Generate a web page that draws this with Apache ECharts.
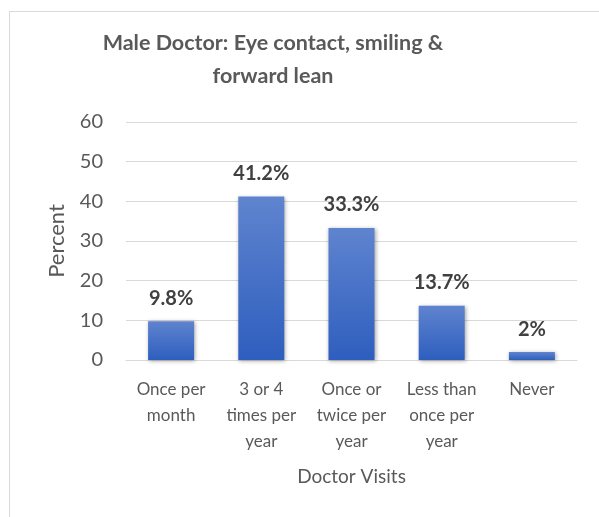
<!DOCTYPE html>
<html>
<head>
<meta charset="utf-8">
<style>
  html, body { margin: 0; padding: 0; background: #fff; }
  #frame { position: absolute; left: 9px; top: 11px; width: 600px; height: 520px; border: 1px solid #d9d9d9; box-sizing: border-box; }
  #chart { position: absolute; left: 0; top: 0; width: 599px; height: 517px; }
</style>
<script src="https://cdn.jsdelivr.net/npm/echarts@6/dist/echarts.min.js"></script>
</head>
<body>
<div id="frame"></div>
<div id="chart"></div>
<script>
const categories = [
  'Once per\nmonth',
  '3 or 4\ntimes per\nyear',
  'Once or\ntwice per\nyear',
  'Less than\nonce per\nyear',
  'Never'
];
const percentValues = [9.8, 41.2, 33.3, 13.7, 2];
const yTicks = { min: 0, max: 60, interval: 10 };

const FONT = 'Lato, "Open Sans", sans-serif';

const chart = echarts.init(document.getElementById('chart'), null, { renderer: 'canvas' });
chart.setOption({
  animation: false,
  title: {
    text: 'Male Doctor: Eye contact, smiling &\nforward lean',
    left: 268,
    top: 22,
    textAlign: 'center',
    textStyle: {
      fontFamily: FONT,
      fontSize: 21.5,
      fontWeight: 'bold',
      color: '#595959',
      lineHeight: 33
    }
  },
  grid: { left: 126, right: 22, top: 122, bottom: 157 },
  xAxis: {
    type: 'category',
    data: categories,
    name: 'Doctor Visits',
    nameLocation: 'middle',
    nameGap: 107,
    nameTextStyle: { fontFamily: FONT, fontSize: 19, color: '#595959' },
    axisLine: { lineStyle: { color: '#d9d9d9', width: 1 } },
    axisTick: { show: false },
    axisLabel: {
      interval: 0,
      margin: 17,
      fontFamily: FONT,
      fontSize: 17,
      lineHeight: 26,
      color: '#595959'
    }
  },
  yAxis: {
    type: 'value',
    min: yTicks.min,
    max: yTicks.max,
    interval: yTicks.interval,
    name: 'Percent',
    nameLocation: 'middle',
    nameGap: 58,
    nameRotate: 90,
    nameTextStyle: { fontFamily: FONT, fontSize: 22, color: '#595959' },
    axisLine: { show: false },
    axisTick: { show: false },
    axisLabel: { margin: 23, fontFamily: FONT, fontSize: 20, color: '#595959' },
    splitLine: { lineStyle: { color: '#d9d9d9', width: 1 } }
  },
  series: [{
    type: 'bar',
    data: percentValues,
    barWidth: '51%',
    itemStyle: {
      color: new echarts.graphic.LinearGradient(0, 0, 0, 1, [
        { offset: 0, color: '#5f84cf' },
        { offset: 1, color: '#2e5ebe' }
      ]),
      shadowColor: 'rgba(0,0,0,0.35)',
      shadowBlur: 4,
      shadowOffsetX: 1,
      shadowOffsetY: 1
    },
    label: {
      show: true,
      position: 'top',
      distance: 13,
      formatter: p => p.value + '%',
      fontFamily: FONT,
      fontSize: 20,
      fontWeight: 'bold',
      color: '#404040'
    }
  }]
});
</script>
</body>
</html>
